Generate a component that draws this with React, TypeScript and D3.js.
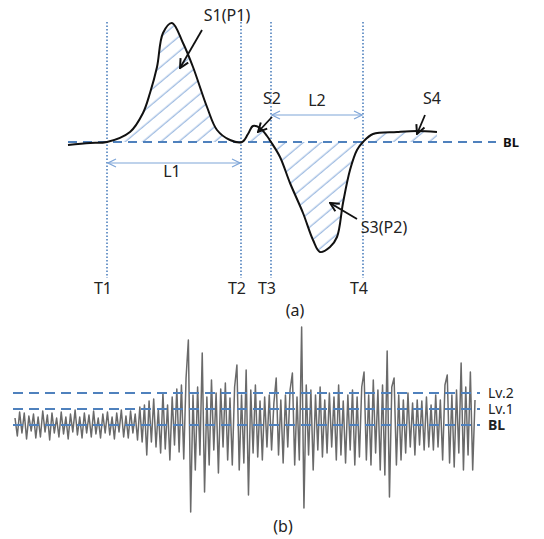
import React from "react";
import * as d3 from "d3";

// (a) pulse curve: time position and amplitude above the baseline
const pulseT = [68, 90, 107, 130, 143, 150, 157, 163, 172, 183, 193, 207, 217, 230, 242, 248, 253, 260, 267, 271, 280, 290, 303, 313, 320, 330, 337, 343, 350, 357, 363, 373, 397, 417, 437];
const pulseV = [-3, -1, 0, 10, 29, 49, 75, 109, 119, 99, 75, 35, 12, 2, 0, 8, 16, 14, 6, 0, -15, -41, -71, -98, -110, -105, -95, -61, -28, -8, 0, 8, 10, 11, 10];

const markerNames = ["T1", "T2", "T3", "T4"];
const markerT = [107, 241, 271, 363];

// (b) raw signal amplitude samples
const signal = [
  7, -11, 13, -8, 12, -14, 9, -6, 11, -13,
  8, -12, 14, -7, 10, -15, 12, -8, 7, -12,
  13, -9, 8, -14, 11, -7, 15, -10, 8, -13,
  12, -8, 10, -12, 14, -9, 7, -13, 11, -8,
  13, -10, 8, -14, 12, -7, 15, -12, 9, -13,
  14, -8, 11, -15, 18, -17,
  20, -30, 24, -17, 26, -22, 16, -28, 32, -24,
  20, -35, 28, -20, 36, -27, 40, -34, 47, 85,
  -87, 30, -45, 38, -30, 72, -67, 28, -40, 45,
  -25, 32, -48, 36, -22, 42, -35, 27, -40, 38,
  60, -45, 30, -38, 55, -70, 35, -28, 40, -32,
  24, -35, 28, -22, 30, -25, 22, 47, -30, 25,
  -38, 30, -22, 35, 52, -40, 28, -35, 98, -83,
  40, -30, 35, -45, 30, -25, 38, -32, 25, -28,
  32, -22, 28, -35, 40, -30, 24, -38, 30, -25,
  35, -40, 28, -32, 38, 53, -35, 30, -40, 45,
  -28, 35, -45, 40, -50, 74, -72, 38, 47, -40,
  30, -35, 25, -28, 32, -22, 22, -30, 25, -20,
  24, -25, 28, -22, 20, -25, 30, -22, 25, -35,
  40, 50, -38, 30, -42, 35, -28, 62, -45, 38,
  -30, 53, -45, 25,
];
const levelNames = ["Lv.2", "Lv.1", "BL"];
const levelV = [32, 16, 0];

const BLUE = "#4f81bd";
const LIGHT = "#7fa6d8";
const FONT = "'Noto Sans', 'DejaVu Sans', sans-serif";

export default function App() {
  const xA = d3.scaleLinear().domain([60, 520]).range([60, 520]);
  const yA = d3.scaleLinear().domain([-110, 120]).range([252, 22]);
  const pts = pulseT.map((t, i) => ({ t, v: pulseV[i] }));
  const line = d3.line<any>().x(d => xA(d.t)).y(d => yA(d.v)).curve(d3.curveCatmullRom.alpha(0.5));
  const area = d3.area<any>().x(d => xA(d.t)).y0(yA(0)).y1(d => yA(d.v)).curve(d3.curveCatmullRom.alpha(0.5));
  const hatched = pts.filter(d => d.t >= 107);

  const xB = d3.scaleLinear().domain([0, signal.length - 1]).range([15, 475]);
  const yB = d3.scaleLinear().domain([-100, 100]).range([525, 325]);
  const wave = d3.line<number>().x((_, i) => xB(i)).y(d => yB(d));

  const blY = yA(0);
  const textStyle = { fontFamily: FONT, fontSize: 16, fill: "#222" } as const;

  return (
    <svg width={544} height={539} style={{ position: "absolute", left: 0, top: 0, background: "#fff" }}>
      <defs>
        <pattern id="hatch" patternUnits="userSpaceOnUse" width={12} height={11.5} patternTransform="rotate(-40)">
          <line x1={0} y1={5} x2={12} y2={5} stroke={LIGHT} strokeWidth={1} />
        </pattern>
        <marker id="open" viewBox="0 0 10 10" refX={9} refY={5} markerWidth={10} markerHeight={10} orient="auto-start-reverse" markerUnits="userSpaceOnUse">
          <path d="M1,1 L9,5 L1,9" fill="none" stroke={LIGHT} strokeWidth={1.2} />
        </marker>
        <marker id="blk" viewBox="0 0 10 10" refX={9} refY={5} markerWidth={11} markerHeight={11} orient="auto" markerUnits="userSpaceOnUse">
          <path d="M1,1 L9,5 L1,9" fill="none" stroke="#111" strokeWidth={1.8} />
        </marker>
      </defs>

      {/* (a) */}
      <path d={area(hatched) || ""} fill="url(#hatch)" stroke="none" />
      {markerT.map((t, i) => (
        <g key={markerNames[i]}>
          <line x1={xA(t)} x2={xA(t)} y1={22} y2={278} stroke={BLUE} strokeWidth={1.6} strokeDasharray="1.5 2" />
          <text x={xA(t) - 4} y={294} textAnchor="middle" style={textStyle}>{markerNames[i]}</text>
        </g>
      ))}
      <line x1={xA(68)} x2={xA(496)} y1={blY} y2={blY} stroke={BLUE} strokeWidth={2} strokeDasharray="9 6" />
      <text x={503} y={blY + 5} style={{ fontFamily: FONT, fontSize: 13, fontWeight: 700, fill: "#111" }}>BL</text>
      <path d={line(pts) || ""} fill="none" stroke="#111" strokeWidth={2} />

      <line x1={xA(markerT[0]) + 1} x2={xA(markerT[1]) - 1} y1={163} y2={163} stroke={LIGHT} strokeWidth={1.2} markerStart="url(#open)" markerEnd="url(#open)" />
      <text x={172} y={177} textAnchor="middle" style={textStyle}>L1</text>
      <line x1={xA(markerT[2]) + 1} x2={xA(markerT[3]) - 1} y1={115} y2={115} stroke={LIGHT} strokeWidth={1.2} markerStart="url(#open)" markerEnd="url(#open)" />
      <text x={317} y={106} textAnchor="middle" style={textStyle}>L2</text>

      <text x={227} y={21} textAnchor="middle" style={textStyle}>S1(P1)</text>
      <line x1={202} y1={30} x2={180} y2={68} stroke="#111" strokeWidth={1.8} markerEnd="url(#blk)" />
      <text x={272} y={104} textAnchor="middle" style={textStyle}>S2</text>
      <line x1={272} y1={117} x2={258} y2={132} stroke="#111" strokeWidth={1.8} markerEnd="url(#blk)" />
      <text x={432} y={104} textAnchor="middle" style={textStyle}>S4</text>
      <line x1={425} y1={115} x2={417} y2={134} stroke="#111" strokeWidth={1.8} markerEnd="url(#blk)" />
      <text x={384} y={233} textAnchor="middle" style={textStyle}>S3(P2)</text>
      <line x1={357} y1={219} x2={330} y2={203} stroke="#111" strokeWidth={1.8} markerEnd="url(#blk)" />

      <text x={295} y={316} textAnchor="middle" style={textStyle}>(a)</text>

      {/* (b) */}
      <path d={wave(signal) || ""} fill="none" stroke="#6a6a6a" strokeWidth={1.5} strokeLinejoin="round" />
      {levelV.map((v, i) => (
        <g key={levelNames[i]}>
          <line x1={13} x2={480} y1={yB(v)} y2={yB(v)} stroke={BLUE} strokeWidth={2} strokeDasharray="10 6" />
          <text x={488} y={yB(v) + 5} style={{ ...textStyle, fontSize: 14, fontWeight: levelNames[i] === "BL" ? 700 : 400 }}>{levelNames[i]}</text>
        </g>
      ))}
      <text x={283} y={532} textAnchor="middle" style={textStyle}>(b)</text>
    </svg>
  );
}
